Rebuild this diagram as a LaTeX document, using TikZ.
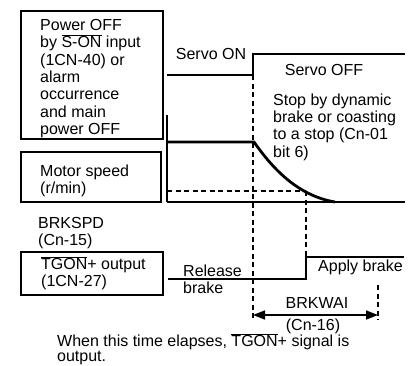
\documentclass[tikz,border=0pt]{standalone}
\usepackage{fontspec}
\setmainfont{Liberation Sans}
\usetikzlibrary{arrows.meta}
\newcommand{\ovl}[1]{$\overline{\mbox{#1}}$}

\begin{document}
\begin{tikzpicture}[x=1pt,y=-1pt,
  lbl/.style={font=\fontsize{16}{17.3}\selectfont,align=left,inner sep=0pt},
  sigbox/.style={draw,line width=2.4pt,inner sep=0pt},
  wave/.style={line width=2pt},
  speed/.style={line width=2.8pt},
  guide/.style={line width=1.3pt,dash pattern=on 5pt off 3.5pt}]
\useasboundingbox (0,0) rectangle (414,365);

% ======================= signal boxes (left column) =======================
\node[sigbox,minimum width=142pt,minimum height=128pt] (pwrbox) at (92,75) {};
\node[lbl,anchor=west] (pwrtxt) at (40,78.5)
  {Power OFF\\by \ovl{S-ON} input\\(1CN-40) or\\alarm\\occurrence\\and main\\power OFF};
\node[sigbox,minimum width=140pt,minimum height=50pt] (spdbox) at (91,177) {};
\node[lbl,anchor=west] (spdtxt) at (40,181) {Motor speed\\(r/min)};
\node[sigbox,minimum width=142pt,minimum height=43pt] (tgonbox) at (92,273.5) {};
\node[lbl,anchor=west] (tgontxt) at (41,273) {\ovl{TGON}+ output\\(1CN-27)};
\node[lbl,anchor=west] (brkspd) at (38,233) {BRKSPD\\(Cn-15)};

% ======================= servo ON / OFF =======================
\coordinate (svA) at (167,75);
\coordinate (svB) at (253,75);
\coordinate (svC) at (253,54);
\coordinate (svD) at (405,54);
\draw[wave] (svA) -- (svB) -- (svC) -- (svD);
\node[lbl] (svon) at (211,54) {Servo ON};
\node[lbl] (svoff) at (324,70) {Servo OFF};
\node[lbl,anchor=west] (stop) at (273,127)
  {Stop by dynamic\\brake or coasting\\to a stop (Cn-01\\bit 6)};

% ======================= motor speed =======================
\draw[line width=1.6pt] (167,115) -- (167,202);
\draw[speed] (167,142) -- (254,142) .. controls (275,172) and (300,196) .. (335,202);
\draw[speed] (167,202) -- (405,202);
\coordinate (cross) at (306,191);
\draw[guide] (167,191) -- (cross);

% ======================= brake signal =======================
\coordinate (tgA) at (168,279);
\coordinate (tgB) at (306,279);
\coordinate (tgC) at (306,257);
\coordinate (tgD) at (404,257);
\draw[wave] (tgA) -- (tgB) -- (tgC) -- (tgD);
\node[lbl,anchor=west] (release) at (183,279) {Release\\brake};
\node[lbl,anchor=west] (apply) at (318,267) {Apply brake};

% ======================= guides and BRKWAI =======================
\coordinate (arL) at (253,315);
\coordinate (arR) at (378,315);
\draw[guide] (svB) -- (253,320);
\draw[guide] (cross) -- (tgB);
\draw[guide] (378,285) -- (378,320);
\draw[{Triangle[length=12pt,width=9pt]}-{Triangle[length=12pt,width=9pt]},line width=1.6pt] (arL) -- (arR);
\node[lbl] (brkwai) at (317,303) {BRKWAI};
\node[lbl] (cn16) at (313,326) {(Cn-16)};
\node[lbl,font=\fontsize{16}{14.5}\selectfont,anchor=west] (note) at (57,349)
  {When this time elapses, \ovl{TGON}+ signal is\\output.};

\end{tikzpicture}
\end{document}
